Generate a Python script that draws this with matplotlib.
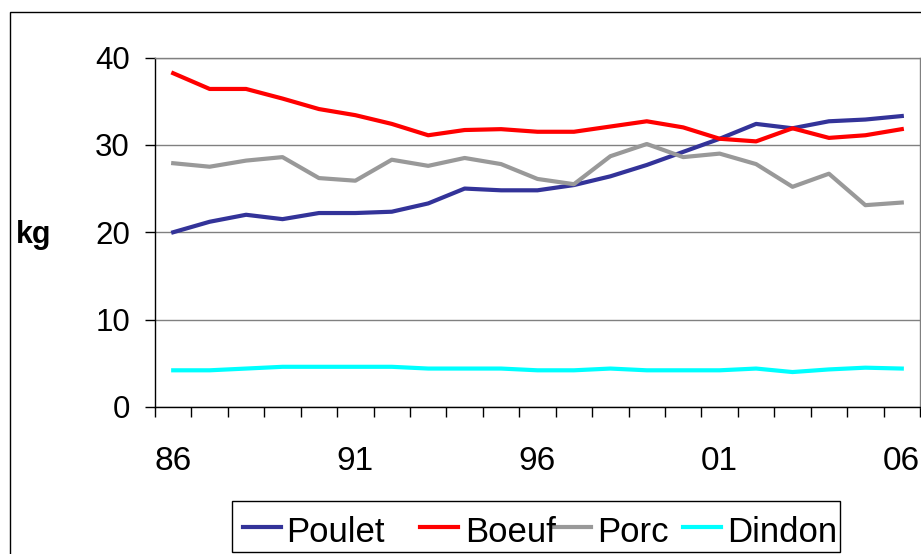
import matplotlib
matplotlib.use("Agg")
import matplotlib.pyplot as plt
from matplotlib.patches import Rectangle
from matplotlib.lines import Line2D

plt.rcParams['font.family'] = ['Liberation Sans', 'DejaVu Sans']

years = ['86', '87', '88', '89', '90', '91', '92', '93', '94', '95', '96',
         '97', '98', '99', '00', '01', '02', '03', '04', '05', '06']
poulet = [20.0, 21.2, 22.0, 21.5, 22.2, 22.2, 22.35, 23.3, 25.0, 24.8, 24.8,
          25.4, 26.4, 27.7, 29.2, 30.7, 32.4, 31.9, 32.7, 32.9, 33.3]
boeuf = [38.2, 36.4, 36.4, 35.3, 34.1, 33.4, 32.4, 31.1, 31.7, 31.8, 31.5,
         31.5, 32.1, 32.7, 32.0, 30.7, 30.4, 31.9, 30.8, 31.1, 31.8]
porc = [27.9, 27.5, 28.2, 28.6, 26.2, 25.9, 28.3, 27.6, 28.5, 27.8, 26.1,
        25.5, 28.7, 30.1, 28.6, 29.0, 27.8, 25.2, 26.7, 23.1, 23.4]
dindon = [4.2, 4.2, 4.4, 4.6, 4.6, 4.6, 4.6, 4.4, 4.4, 4.4, 4.2,
          4.2, 4.4, 4.2, 4.2, 4.2, 4.4, 4.0, 4.3, 4.5, 4.4]
series_names = ['Poulet', 'Boeuf', 'Porc', 'Dindon']
colors = ['#333399', '#FF0000', '#999999', '#00FFFF']
yticks = [0, 10, 20, 30, 40]
label_every = 5

W, H = 921, 554
def fx(px):
    return px / W
def fy(py):
    return 1 - py / H

fig = plt.figure(figsize=(W / 100, H / 100), dpi=100)
fig.patches.append(Rectangle((fx(9.5), -0.1), 1.2, fy(12) + 0.1,
                             transform=fig.transFigure, fill=False,
                             edgecolor='black', linewidth=1.0, zorder=0))
ax = fig.add_axes([fx(155), fy(407), fx(920) - fx(155), fy(57.5) - fy(407)])

x = list(range(len(years)))
for vals, name, c in zip([poulet, boeuf, porc, dindon], series_names, colors):
    ax.plot(x, vals, color=c, lw=3.0, label=name, solid_joinstyle='round')

ax.set_xlim(-0.5, len(years) - 0.5)
ax.set_ylim(0, 40)
ax.set_yticks(yticks)
ax.set_yticklabels([str(v) for v in yticks])
ax.yaxis.grid(True, color='#808080', lw=1.0)
ax.set_axisbelow(True)

ax.set_xticks(x[::label_every])
ax.set_xticklabels(years[::label_every])
ax.set_xticks([i - 0.5 for i in range(len(years) + 1)], minor=True)
ax.tick_params(axis='x', which='major', length=0, pad=28, labelsize=24)
ax.tick_params(axis='x', which='minor', length=7.5, width=1, direction='out', color='black')
ax.tick_params(axis='y', which='major', length=7.5, width=1, pad=10.5, labelsize=22.5)

for s in ['left', 'bottom']:
    ax.spines[s].set_color('black')
    ax.spines[s].set_linewidth(1.0)
for s in ['top', 'right']:
    ax.spines[s].set_color('#808080')
    ax.spines[s].set_linewidth(1.0)

fig.text(fx(34), fy(243), 'kg', fontsize=22, fontweight='bold',
         ha='center', va='baseline')

# legend (Excel-style fixed entry layout)
fig.patches.append(Rectangle((fx(231.5), fy(551.5)), fx(839.5) - fx(231.5),
                             fy(501.5) - fy(551.5), transform=fig.transFigure,
                             facecolor='white', edgecolor='black', linewidth=1.0,
                             zorder=5))
handle_x = [242.5, 420, 552.5, 682.5]
text_x = [286.5, 465, 597, 727]
for name, c, hx, tx in zip(series_names, colors, handle_x, text_x):
    fig.add_artist(Line2D([fx(hx), fx(hx + 38)], [fy(527.3), fy(527.3)],
                          transform=fig.transFigure, color=c, lw=3.0, zorder=6))
    fig.text(fx(tx), fy(541.7), name, fontsize=25, ha='left', va='baseline',
             zorder=7)

fig.savefig('out.png', dpi=100)
